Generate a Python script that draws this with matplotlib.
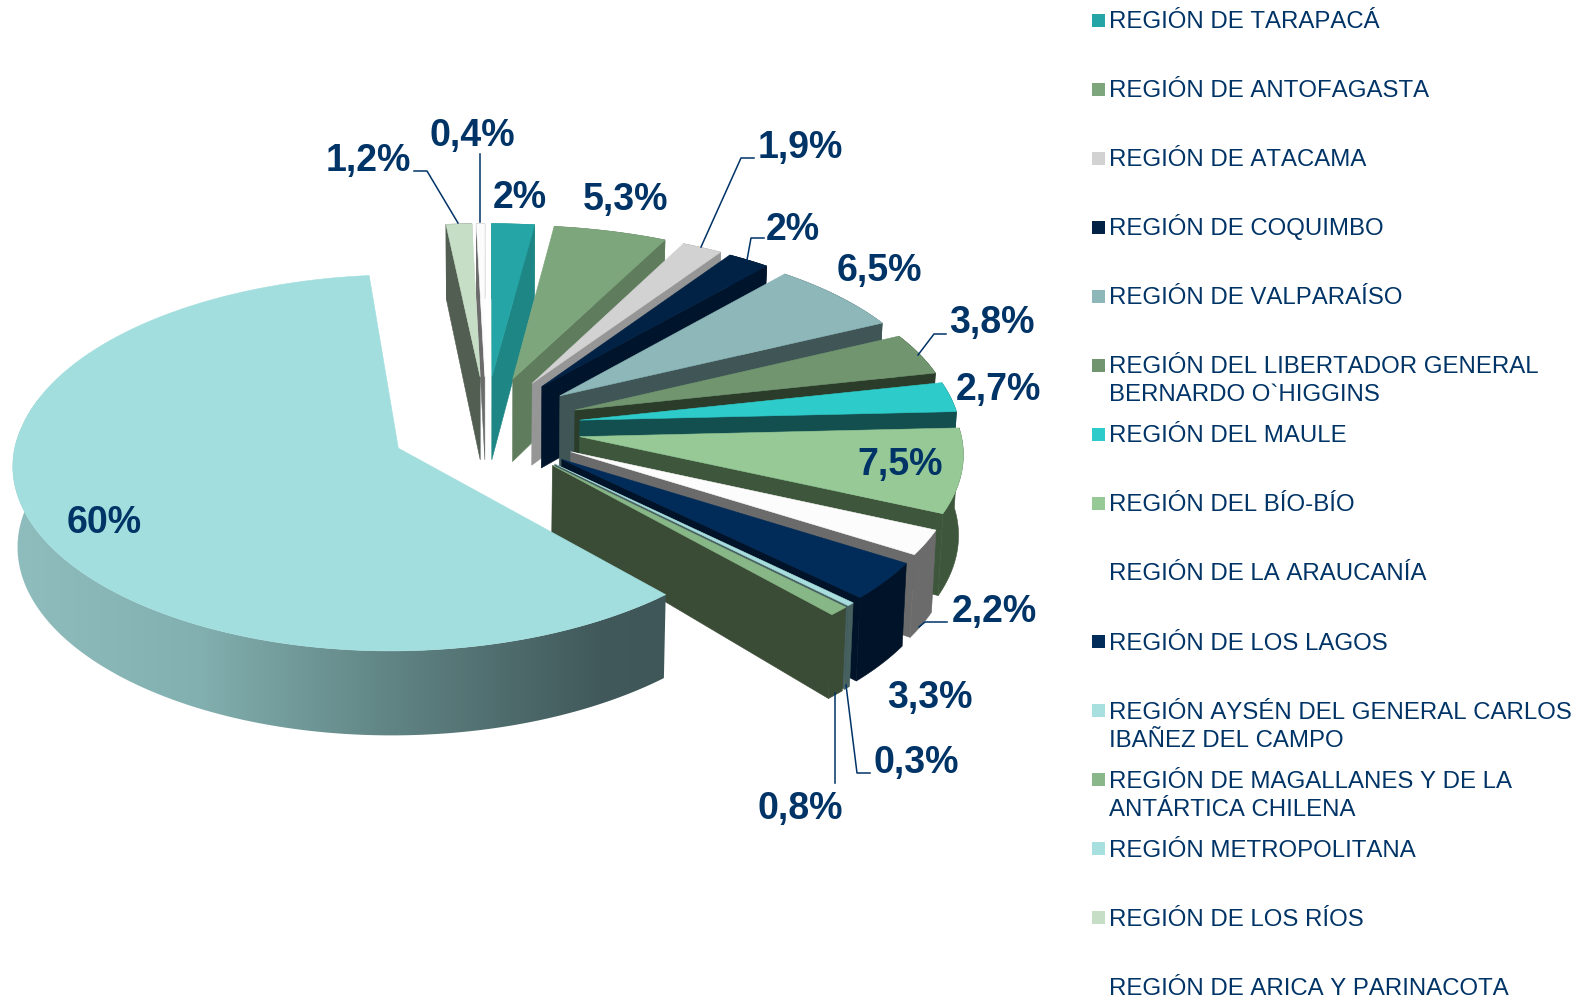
import numpy as np
import matplotlib
matplotlib.use("Agg")
import matplotlib.pyplot as plt
from matplotlib.patches import Polygon, Rectangle
from matplotlib.colors import to_rgb

plt.rcParams["text.kerning_factor"] = 6

# Datos del grafico
regiones = [
    "REGIÓN DE TARAPACÁ",
    "REGIÓN DE ANTOFAGASTA",
    "REGIÓN DE ATACAMA",
    "REGIÓN DE COQUIMBO",
    "REGIÓN DE VALPARAÍSO",
    "REGIÓN DEL LIBERTADOR GENERAL\nBERNARDO O`HIGGINS",
    "REGIÓN DEL MAULE",
    "REGIÓN DEL BÍO-BÍO",
    "REGIÓN DE LA ARAUCANÍA",
    "REGIÓN DE LOS LAGOS",
    "REGIÓN AYSÉN DEL GENERAL CARLOS\nIBAÑEZ DEL CAMPO",
    "REGIÓN DE MAGALLANES Y DE LA\nANTÁRTICA CHILENA",
    "REGIÓN METROPOLITANA",
    "REGIÓN DE LOS RÍOS",
    "REGIÓN DE ARICA Y PARINACOTA",
]
valores = [2, 5.3, 1.9, 2, 6.5, 3.8, 2.7, 7.5, 2.2, 3.3, 0.3, 0.8, 60, 1.2, 0.4]
etiquetas = ["2%", "5,3%", "1,9%", "2%", "6,5%", "3,8%", "2,7%", "7,5%",
             "2,2%", "3,3%", "0,3%", "0,8%", "60%", "1,2%", "0,4%"]

# Colores: cara superior y paredes
color_sup = ["#25A5A6", "#7DA67C", "#D2D2D2", "#012145", "#8DB7B9", "#71966F", "#2ECBCB", "#96C996",
             "#FCFCFC", "#012B58", "#A8DEDE", "#88B787", "#A2DEDE", "#C6DEC5", "#FCFCFC"]
color_pared = ["#1E8685", "#5F7D5D", "#969696", "#00152B", "#3F5556", "#2B3D2A", "#144F50", "#3E573C",
               "#6B6B6B", "#001328", "#46605F", "#3A4B36", "#3F5759", "#525E52", "#6B6B6B"]
color_leyenda = ["#25A5A6", "#7DA67C", "#D2D2D2", "#012145", "#8DB7B9", "#71966F", "#2ECBCB", "#96C996",
                 "#FFFFFF", "#012B58", "#A8E0E0", "#8AB78A", "#A8E0E0", "#C6DEC5", "#FFFFFF"]
AZUL = "#003366"

# Posicion de las etiquetas y lineas guia, en pixeles
pos_etiquetas = [(520, 198), (626, 200), (800, 148), (793, 230), (879, 271), (992, 323), (998, 390), (900, 465),
                 (994, 612), (930, 698), (916, 763), (800, 809), (104, 523), (368, 161), (472, 136)]
guias = [
    [(414, 171), (427, 171), (458, 223)],
    [(480, 154), (480, 222)],
    [(754, 158), (741, 158), (701, 247)],
    [(764, 238), (751, 238), (747, 260)],
    [(946, 334), (934, 334), (918, 355)],
    [(947, 622), (925, 622), (919, 627)],
    [(870, 773), (857, 773), (846, 685)],
    [(835, 783), (835, 693)],
]

# Parametros de la perspectiva
CX, CY = 486, 427
A, KX = 380, 0.08
B, KY = 178, 0.1
EX, EY = 0.25, 0.29
AJUSTE_METRO = 9  # la cara de la region metropolitana sube un poco mas por detras


def proyectar(x, y, grande=False):
    sy = CY - B * y / (1 + KY * y)
    if grande and y > 0:
        sy -= AJUSTE_METRO * y
    return CX + A * x / (1 + KX * y), sy


def profundidad_borde(y):
    return 80 - 4 * y


def abajo(sx, sy, d):
    return CX + (sx - CX) * 0.99, sy + d


def pared_visible(apice, borde, otro):
    # la pared se ve solo si al bajar queda fuera de la cara superior
    dx, dy = borde[0] - apice[0], borde[1] - apice[1]
    interior = dx * (otro[1] - apice[1]) - dy * (otro[0] - apice[0])
    return dx * interior < 0 and abs(dx) > 1


gradiente_x = [18, 200, 400, 600, 660]
gradiente_c = ["#8FBCBC", "#82AFAF", "#5F8282", "#41595B", "#3F5759"]

fig = plt.figure(figsize=(15.9, 9.97), dpi=100)
ax = fig.add_axes([0, 0, 1, 1])


def poly(puntos, color, z):
    p = Polygon(puntos, closed=True, facecolor=color, edgecolor=color, linewidth=0.4, zorder=z)
    ax.add_patch(p)
    return p


total = sum(valores)
acum = np.cumsum([0] + valores) / total * 2 * np.pi

z = 1
orden = [14, 13] + list(range(12)) + [12]
for i in orden:
    t0, t1 = acum[i], acum[i + 1]
    grande = valores[i] > 50
    medio = (t0 + t1) / 2
    ox, oy = EX * np.sin(medio), EY * np.cos(medio)
    ts = np.linspace(t0, t1, max(6, int(valores[i] * 8)))
    xs, ys = np.sin(ts) + ox, np.cos(ts) + oy
    arco = [proyectar(a, b, grande) for a, b in zip(xs, ys)]
    apice = proyectar(ox, oy, grande)
    d_apice = 75 + 8 * np.cos(medio)
    apice_b = abajo(apice[0], apice[1], d_apice)
    arco_b = [abajo(p[0], p[1], profundidad_borde(b)) for p, b in zip(arco, ys)]

    # paredes de los cortes
    if not grande:
        if pared_visible(apice, arco[0], arco[-1]):
            poly([apice, arco[0], arco_b[0], apice_b], color_pared[i], z)
        if pared_visible(apice, arco[-1], arco[0]):
            poly([apice, arco[-1], arco_b[-1], apice_b], color_pared[i], z + 0.1)
    # pared exterior
    pared = arco + arco_b[::-1]
    if grande:
        # degradado horizontal recortado con la forma de la pared
        px = np.linspace(gradiente_x[0] - 10, gradiente_x[-1] + 10, 700)
        rgb = np.array([to_rgb(c) for c in gradiente_c])
        img = np.stack([np.interp(px, gradiente_x, rgb[:, n]) for n in range(3)], axis=1)[None, :, :]
        forma = Polygon(pared, closed=True, facecolor="none", edgecolor="none", transform=ax.transData)
        ax.add_patch(forma)
        im = ax.imshow(img, extent=(px[0], px[-1], 800, 400), aspect="auto", zorder=z + 0.2)
        im.set_clip_path(forma)
    else:
        poly(pared, color_pared[i], z + 0.2)
    # cara superior
    poly([apice] + arco, color_sup[i], z + 0.3)
    z += 1

ax.set_xlim(0, 1590)
ax.set_ylim(997, 0)
ax.axis("off")

for g in guias:
    ax.plot([p[0] for p in g], [p[1] for p in g], color=AZUL, lw=1.1, zorder=50)

for txt, (x, y) in zip(etiquetas, pos_etiquetas):
    ax.text(x, y, txt, ha="center", va="center", color=AZUL, fontsize=27,
            fontweight="bold", family="Liberation Sans", zorder=60)

# Leyenda
for k, (reg, col) in enumerate(zip(regiones, color_leyenda)):
    ax.add_patch(Rectangle((1092, 14 + 69 * k), 13, 13, facecolor=col, edgecolor="none", zorder=60))
    for n, linea in enumerate(reg.split("\n")):
        ax.text(1109, 28 + 69.06 * k + 28 * n, linea, ha="left", va="baseline", color=AZUL,
                fontsize=17.3, family="Liberation Sans", zorder=60)

fig.savefig("out.png", dpi=100)
